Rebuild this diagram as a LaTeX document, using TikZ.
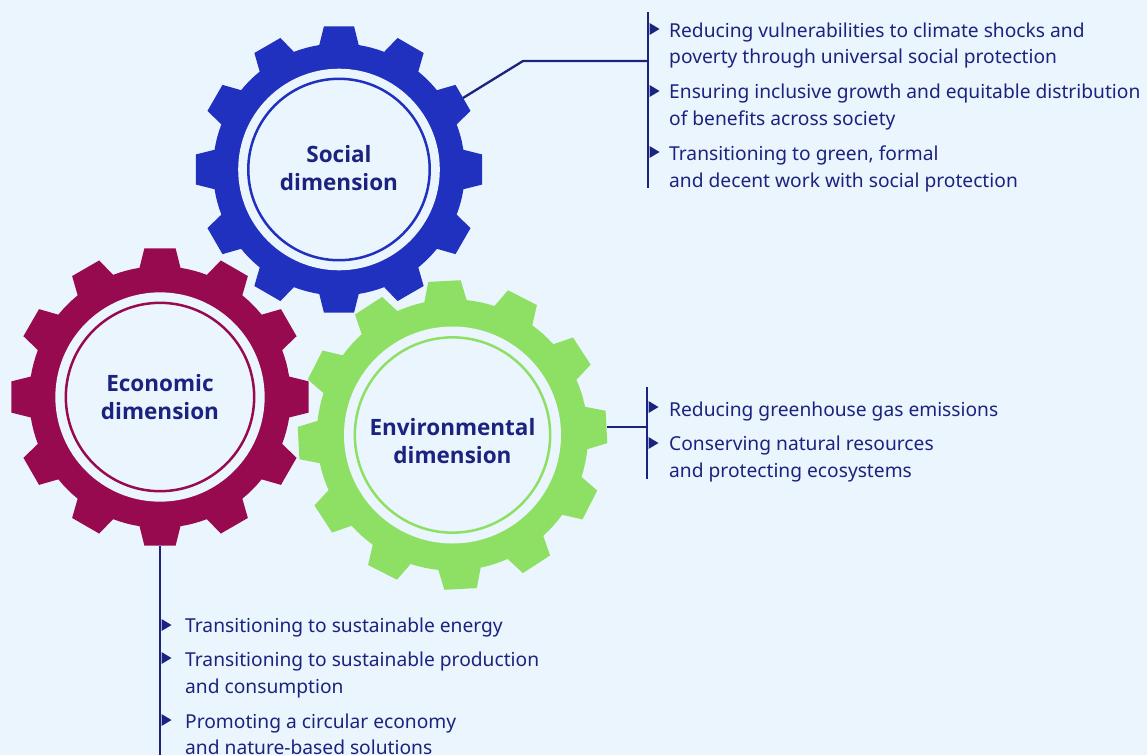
\documentclass[tikz,border=0pt]{standalone}
\usepackage{fontspec}
\setmainfont{Noto Sans}
\newfontfamily\lblfont{Open Sans}
\definecolor{bg}{HTML}{EBF5FD}
\definecolor{navy}{HTML}{1B237F}
\definecolor{gblue}{HTML}{2030BF}
\definecolor{gred}{HTML}{970A50}
\definecolor{ggreen}{HTML}{8EE065}
\newcommand\drawgear[6]{% x, y, R, rot, color, name
  \begin{scope}[shift={(#1,#2)}]
    \fill[#5] ({#4-15}:{#3*0.875})
      \foreach \i in {0,...,11}{
        -- ({#4+30*\i-9}:{#3*0.875}) -- ({#4+30*\i-6}:#3) -- ({#4+30*\i+6}:#3)
        -- ({#4+30*\i+9}:{#3*0.875}) -- ({#4+30*\i+12}:{#3*0.875})
        -- ({#4+30*\i+15}:{#3*0.875}) -- ({#4+30*\i+18}:{#3*0.875})
      } -- cycle;
    \fill[bg] (0,0) circle[radius={#3*0.70pt}];
    \draw[#5, line width=2.5pt] (0,0) circle[radius={#3*0.63pt}];
    \coordinate (#6) at (0,0);
  \end{scope}}
\newcommand\bul[2]{\fill[navy] (#1,#2) ++(1.5,-6) -- ++(10,6) -- ++(-10,6) -- cycle;}
\tikzset{
  glabel/.style={font=\lblfont\bfseries\fontsize{22.5}{28}\selectfont, text=navy, align=center, inner sep=0pt},
  item/.style={font=\fontsize{19.2}{26.5}\selectfont, text=navy, align=left, anchor=west, inner sep=0pt},
  conn/.style={navy, line width=2.3pt},
}
\begin{document}
\begin{tikzpicture}[x=1pt,y=-1pt]
\fill[bg] (0,0) rectangle (1147,755);
\useasboundingbox (0,0) rectangle (1147,755);

\drawgear{160}{397}{149.5}{0}{gred}{econC}
\drawgear{339}{169.5}{144}{0}{gblue}{socC}
\drawgear{452.5}{435}{155}{-3}{ggreen}{envC}

\node[glabel] (soc) at (339,168) {Social\\dimension};
\node[glabel] (econ) at (160,397) {Economic\\dimension};
\node[glabel] (env) at (452.5,441) {Environmental\\dimension};

% social connector
\coordinate (socT) at (463,98);
\coordinate (socK) at (523,61);
\coordinate (socB) at (648,61);
\coordinate (sbTop) at (648,12);
\coordinate (sbBot) at (648,188);
\draw[conn] (socT) -- (socK) -- (socB);
\draw[conn] (sbTop) -- (sbBot);
\bul{648}{29}\bul{648}{91}\bul{648}{152}
\node[item] (s1) at (669,45.5) {Reducing vulnerabilities to climate shocks and\\poverty through universal social protection};
\node[item] (s2) at (669,107) {Ensuring inclusive growth and equitable distribution\\of benefits across society};
\node[item] (s3) at (669,169) {Transitioning to green, formal\\and decent work with social protection};

% environmental connector
\coordinate (envT) at (607,427);
\coordinate (envB) at (647,427);
\coordinate (ebTop) at (647,387);
\coordinate (ebBot) at (647,479);
\draw[conn] (envT) -- (envB);
\draw[conn] (ebTop) -- (ebBot);
\bul{647}{407}\bul{647}{443}
\node[item] (e1) at (669,411.5) {Reducing greenhouse gas emissions};
\node[item] (e2) at (669,459) {Conserving natural resources\\and protecting ecosystems};

% economic connector
\coordinate (ecT) at (160,546);
\coordinate (ecB) at (160,755);
\draw[conn] (ecT) -- (ecB);
\bul{160}{625}\bul{160}{658}\bul{160}{720}
\node[item] (c1) at (185,627.5) {Transitioning to sustainable energy};
\node[item] (c2) at (185,675) {Transitioning to sustainable production\\and consumption};
\node[item] (c3) at (185,734.5) {Promoting a circular economy\\and nature-based solutions};
\end{tikzpicture}
\end{document}
